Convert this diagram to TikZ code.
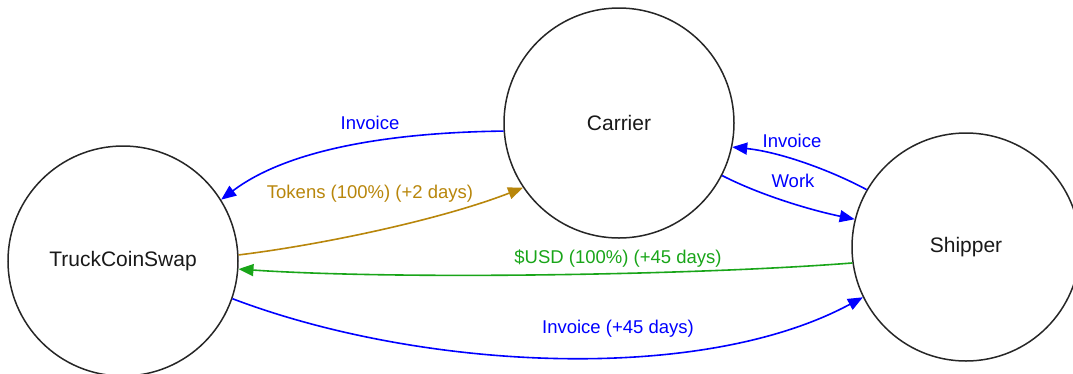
\documentclass[tikz,border=0pt]{standalone}
\usepackage{fontspec}
\setmainfont{Liberation Sans}
\usetikzlibrary{arrows.meta}
\definecolor{gold}{RGB}{184,134,11}
\definecolor{usdgreen}{RGB}{25,165,25}
\definecolor{edgeblue}{RGB}{0,0,255}
\tikzset{
  party/.style={circle, draw=black!85, line width=1.5pt, inner sep=0pt, text=black!90,
    font=\fontsize{21}{25}\selectfont},
  flow/.style={line width=1.6pt, -{Triangle[length=15pt,width=12pt]}},
  lbl/.style={font=\fontsize{18.5}{22}\selectfont, inner sep=0pt}
}
\begin{document}
\begin{tikzpicture}[x=1pt,y=-1pt]
\useasboundingbox (0,0) rectangle (1073,373);
\node[party, minimum size=230pt] (tcs) at (123,261) {TruckCoinSwap};
\node[party, minimum size=230pt] (car) at (619,123) {Carrier};
\node[party, minimum size=228pt] (shp) at (966,247) {Shipper};

% Carrier -> TruckCoinSwap : Invoice
\draw[flow, edgeblue] (car.184) .. controls (430,132) and (300,140) .. (tcs.32);
\node[lbl, text=edgeblue] (l1) at (370,123) {Invoice};
% TruckCoinSwap -> Carrier : Tokens
\draw[flow, gold] (tcs.3) .. controls (320,245) and (440,220) .. (car.214);
\node[lbl, text=gold] (l2) at (370,194) {Tokens (100\%) (+2 days)};
% Shipper -> Carrier : Invoice
\draw[flow, edgeblue] (shp.150) .. controls (830,170) and (780,152) .. (car.348);
\node[lbl, text=edgeblue] (l3) at (792,141) {Invoice};
% Carrier -> Shipper : Work
\draw[flow, edgeblue] (car.333) .. controls (760,195) and (810,210) .. (shp.166);
\node[lbl, text=edgeblue] (l4) at (793,181) {Work};
% Shipper -> TruckCoinSwap : $USD
\draw[flow, usdgreen] (shp.188) .. controls (700,275) and (400,280) .. (tcs.356);
\node[lbl, text=usdgreen] (l5) at (618,259) {\$USD (100\%) (+45 days)};
% TruckCoinSwap -> Shipper : Invoice (+45 days)
\draw[flow, edgeblue] (tcs.341) .. controls (420,370) and (700,385) .. (shp.206);
\node[lbl, text=edgeblue] (l6) at (618,329) {Invoice (+45 days)};
\end{tikzpicture}
\end{document}
